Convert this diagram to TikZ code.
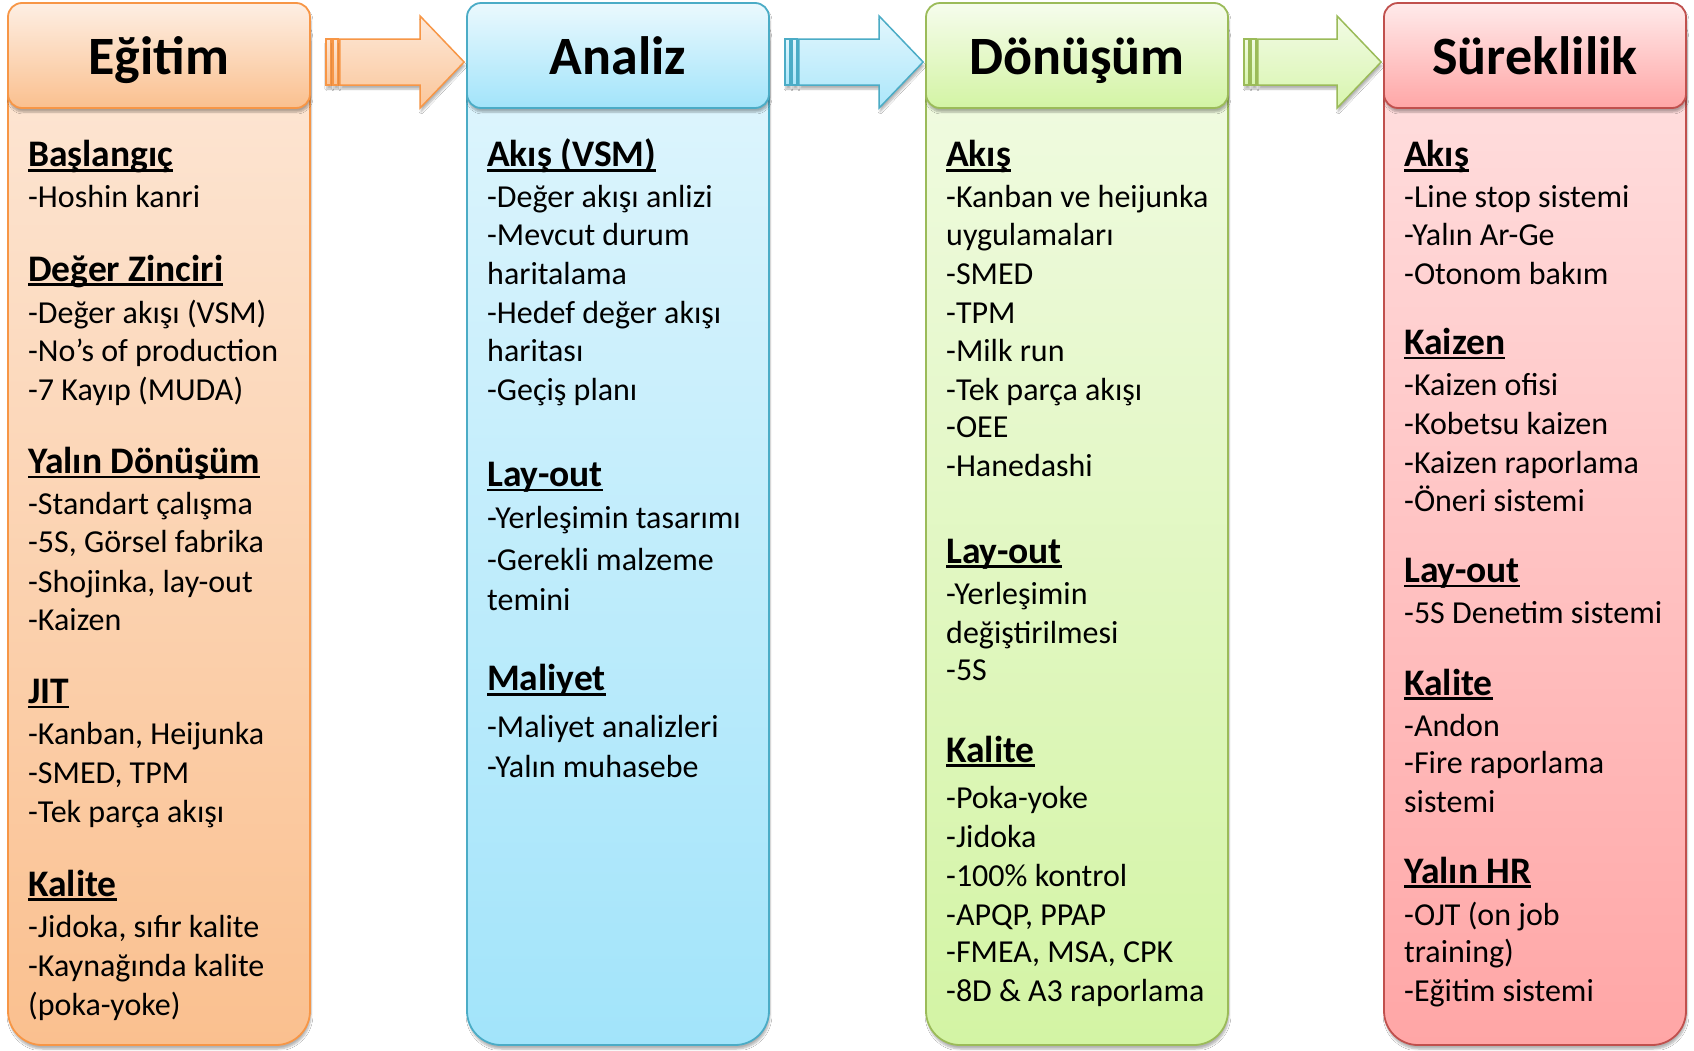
\documentclass[tikz,border=0pt]{standalone}
\usepackage{fontspec}
\setmainfont{Carlito}
\usetikzlibrary{shadows.blur,calc}
\newlength\myulw
\newcommand\myul[1]{\settowidth\myulw{#1}\rlap{\rule[-0.13em]{\myulw}{0.07em}}#1}
\definecolor{orB}{HTML}{F79646}
\definecolor{orT}{HTML}{FDE8D8}
\definecolor{orD}{HTML}{FAC08F}
\definecolor{blB}{HTML}{4BACC6}
\definecolor{blT}{HTML}{E2F6FD}
\definecolor{blD}{HTML}{A2E4FA}
\definecolor{grB}{HTML}{9BBB59}
\definecolor{grT}{HTML}{F2FBE5}
\definecolor{grD}{HTML}{D3F4A4}
\definecolor{rdB}{HTML}{C0504D}
\definecolor{rdT}{HTML}{FFE2E2}
\definecolor{rdD}{HTML}{FFA6A6}
\begin{document}
\begin{tikzpicture}[x=1pt,y=-1pt,
  shd/.style={blur shadow={shadow blur steps=6, shadow xshift=1pt, shadow yshift=-4pt, shadow opacity=30}},
  col/.style={draw=#1B, line width=1.8pt, rounded corners=34pt, minimum width=302pt, minimum height=1042pt, inner sep=0pt, top color=#1T, bottom color=#1D, shd},
  hdr/.style={draw=#1B, line width=1.8pt, rounded corners=14pt, minimum width=302pt, minimum height=105pt, inner sep=0pt, text height=40pt, text depth=2pt, top color=#1T!70!white, bottom color=#1D, shd, font=\fontsize{54}{60}\selectfont\bfseries},
  arr/.style={draw=#1B, line width=1.5pt, line join=miter, top color=#1T, bottom color=#1D!85!#1T, shd},
  hd/.style={anchor=base west, inner sep=0pt, font=\fontsize{37.5}{40}\selectfont\bfseries},
  it/.style={anchor=base west, inner sep=0pt, font=\fontsize{32}{38}\selectfont}]
\useasboundingbox[fill=white] (0,0) rectangle (1694,1050);

% columns
\node[col=or] (c1) at (159,524) {};
\node[col=bl] (c2) at (618,524) {};
\node[col=gr] (c3) at (1077,524) {};
\node[col=rd] (c4) at (1535,524) {};
% headers
\node[hdr=or] (h1) at (159,55.5) {Eğitim};
\node[hdr=bl] (h2) at (618,55.5) {Analiz};
\node[hdr=gr] (h3) at (1077,55.5) {Dönüşüm};
\node[hdr=rd] (h4) at (1535,55.5) {Süreklilik};

% block arrows between headers
\foreach \a/\b/\c in {h1/h2/or, h2/h3/bl, h3/h4/gr}{
  \coordinate (s\a) at ($(\a.east)+(15,6.5)$);
  \coordinate (t\a) at ($(\b.west)+(-2,6.5)$);
  \draw[arr=\c] ([shift={(0,-23)}]s\a) rectangle ([shift={(5,23)}]s\a);
  \draw[arr=\c] ([shift={(7,-23)}]s\a) rectangle ([shift={(12,23)}]s\a);
  \draw[arr=\c] ([shift={(14,-23)}]s\a) -- ([shift={(-44,-23)}]t\a) -- ([shift={(-44,-46)}]t\a)
     -- (t\a) -- ([shift={(-44,46)}]t\a) -- ([shift={(-44,23)}]t\a) -- ([shift={(14,23)}]s\a) -- cycle;
}

% column 1
\node[hd] (a1) at (28,166.7) {\myul{Başlangıç}};
\node[it] (a2) at (28,207.7) {-Hoshin kanri};
\node[hd] (a3) at (28,281) {\myul{Değer Zinciri}};
\node[it] (a4) at (28,323) {-Değer akışı (VSM)};
\node[it] (a5) at (28,361) {-No’s of production};
\node[it] (a6) at (28,400) {-7 Kayıp (MUDA)};
\node[hd] (a7) at (28,473.5) {\myul{Yalın Dönüşüm}};
\node[it] (a8) at (28,514.5) {-Standart çalışma};
\node[it] (a9) at (28,552.4) {-5S, Görsel fabrika};
\node[it] (a10) at (28,592.3) {-Shojinka, lay-out};
\node[it] (a11) at (28,630) {-Kaizen};
\node[hd] (a12) at (28,703.6) {\myul{JIT}};
\node[it] (a13) at (28,744.7) {-Kanban, Heijunka};
\node[it] (a14) at (28,783.6) {-SMED, TPM};
\node[it] (a15) at (28,822.5) {-Tek parça akışı};
\node[hd] (a16) at (28,896) {\myul{Kalite}};
\node[it] (a17) at (28,937) {-Jidoka, sıfır kalite};
\node[it] (a18) at (28,976) {-Kaynağında kalite};
\node[it] (a19) at (28,1015) {(poka-yoke)};

% column 2
\node[hd] (b1) at (487,166.7) {\myul{Akış (VSM)}};
\node[it] (b2) at (487,207.7) {-Değer akışı anlizi};
\node[it] (b3) at (487,245.5) {-Mevcut durum};
\node[it] (b4) at (487,284.4) {haritalama};
\node[it] (b5) at (487,323.3) {-Hedef değer akışı};
\node[it] (b6) at (487,361.1) {haritası};
\node[it] (b7) at (487,400) {-Geçiş planı};
\node[hd] (b8) at (487,486.5) {\myul{Lay-out}};
\node[it] (b9) at (487,528.6) {-Yerleşimin tasarımı};
\node[it] (b10) at (487,570.7) {-Gerekli malzeme};
\node[it] (b11) at (487,610.7) {temini};
\node[hd] (b12) at (487,690.7) {\myul{Maliyet}};
\node[it] (b13) at (487,737.1) {-Maliyet analizleri};
\node[it] (b14) at (487,777.1) {-Yalın muhasebe};

% column 3
\node[hd] (d1) at (946,166.7) {\myul{Akış}};
\node[it] (d2) at (946,207.7) {-Kanban ve heijunka};
\node[it] (d3) at (946,245.5) {uygulamaları};
\node[it] (d4) at (946,284.4) {-SMED};
\node[it] (d5) at (946,323.3) {-TPM};
\node[it] (d6) at (946,361.1) {-Milk run};
\node[it] (d7) at (946,400) {-Tek parça akışı};
\node[it] (d8) at (946,437.8) {-OEE};
\node[it] (d9) at (946,476.7) {-Hanedashi};
\node[hd] (d10) at (946,563.2) {\myul{Lay-out}};
\node[it] (d11) at (946,604.2) {-Yerleşimin};
\node[it] (d12) at (946,643.1) {değiştirilmesi};
\node[it] (d13) at (946,680.9) {-5S};
\node[hd] (d14) at (946,762) {\myul{Kalite}};
\node[it] (d15) at (946,808.4) {-Poka-yoke};
\node[it] (d16) at (946,847.3) {-Jidoka};
\node[it] (d17) at (946,886.2) {-100\% kontrol};
\node[it] (d18) at (946,925.1) {-APQP, PPAP};
\node[it] (d19) at (946,962.9) {-FMEA, MSA, CPK};
\node[it] (d20) at (946,1001.8) {-8D \& A3 raporlama};

% column 4
\node[hd] (e1) at (1404,166.7) {\myul{Akış}};
\node[it] (e2) at (1404,207.7) {-Line stop sistemi};
\node[it] (e3) at (1404,245.5) {-Yalın Ar-Ge};
\node[it] (e4) at (1404,284.4) {-Otonom bakım};
\node[hd] (e5) at (1404,354.6) {\myul{Kaizen}};
\node[it] (e6) at (1404,395.7) {-Kaizen ofisi};
\node[it] (e7) at (1404,434.6) {-Kobetsu kaizen};
\node[it] (e8) at (1404,473.5) {-Kaizen raporlama};
\node[it] (e9) at (1404,511.3) {-Öneri sistemi};
\node[hd] (e10) at (1404,582.6) {\myul{Lay-out}};
\node[it] (e11) at (1404,623.7) {-5S Denetim sistemi};
\node[hd] (e12) at (1404,695) {\myul{Kalite}};
\node[it] (e13) at (1404,736) {-Andon};
\node[it] (e14) at (1404,773.8) {-Fire raporlama};
\node[it] (e15) at (1404,812.7) {sistemi};
\node[hd] (e16) at (1404,883) {\myul{Yalın HR}};
\node[it] (e17) at (1404,925.1) {-OJT (on job};
\node[it] (e18) at (1404,962.9) {training)};
\node[it] (e19) at (1404,1001.8) {-Eğitim sistemi};
\end{tikzpicture}
\end{document}
